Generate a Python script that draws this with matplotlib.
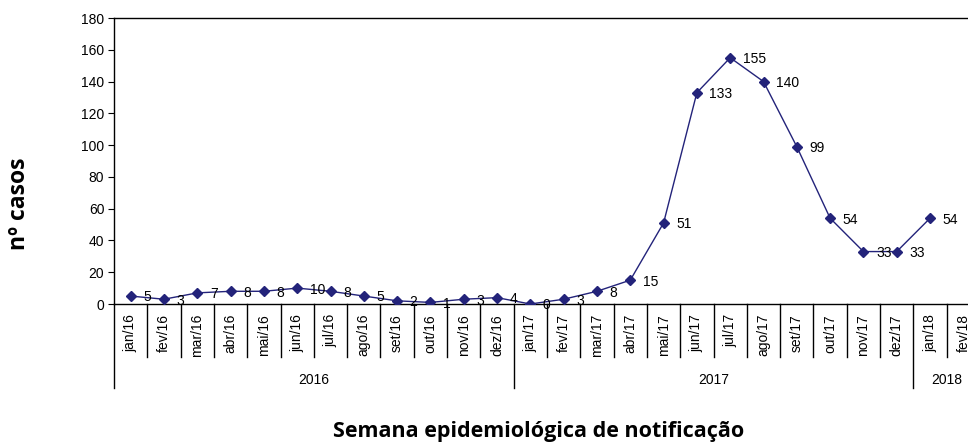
import matplotlib
matplotlib.use("Agg")
import matplotlib.pyplot as plt
from matplotlib.lines import Line2D

months = ["jan/16", "fev/16", "mar/16", "abr/16", "mai/16", "jun/16", "jul/16", "ago/16",
          "set/16", "out/16", "nov/16", "dez/16",
          "jan/17", "fev/17", "mar/17", "abr/17", "mai/17", "jun/17", "jul/17", "ago/17",
          "set/17", "out/17", "nov/17", "dez/17",
          "jan/18", "fev/18"]
cases = [5, 3, 7, 8, 8, 10, 8, 5, 2, 1, 3, 4,
         0, 3, 8, 15, 51, 133, 155, 140, 99, 54, 33, 33,
         54]
years = ["2016", "2017", "2018"]
year_counts = [12, 12, 2]

W, H = 968, 443
fig = plt.figure(figsize=(W / 100, H / 100), dpi=100)
ax_left, ax_right, ax_top, ax_bottom = 114, 980, 18, 304
ax = fig.add_axes([ax_left / W, (H - ax_bottom) / H,
                   (ax_right - ax_left) / W, (ax_bottom - ax_top) / H])

line_color = "#23237a"
xs = list(range(len(cases)))
ax.plot(xs, cases, color=line_color, lw=1.0, marker="D", ms=5.5,
        mfc=line_color, mec=line_color, zorder=3)
for x, v in zip(xs, cases):
    ax.annotate(str(v), (x, v), xytext=(9, -1), textcoords="offset points",
                ha="left", va="center", fontsize=10, family="Liberation Sans",
                color="black", zorder=4)

ax.set_xlim(-0.5, len(months) - 0.5)
ax.set_ylim(0, 180)
ax.set_yticks(range(0, 181, 20))
ax.tick_params(axis="y", labelsize=10, length=4, width=0.8, pad=3)
for lab in ax.get_yticklabels():
    lab.set_family("Liberation Sans")
ax.set_xticks([])
for s in ["left", "top", "bottom", "right"]:
    ax.spines[s].set_linewidth(1.0)
    ax.spines[s].set_color("black")

plot_h = ax_bottom - ax_top
def fy(px_below):
    return -px_below / plot_h

trans = ax.get_xaxis_transform()
# category labels and separators
for i, m in enumerate(months):
    ax.text(i, fy(10), m, rotation=90, ha="center", va="top", fontsize=10,
            family="Liberation Sans", transform=trans, clip_on=False)
boundaries = []
acc = 0
for c in year_counts[:-1]:
    acc += c
    boundaries.append(acc - 0.5)
for i in range(len(months) + 1):
    xb = i - 0.5
    bottom = fy(84) if (xb in boundaries or i == 0) else fy(53)
    ax.add_line(Line2D([xb, xb], [0, bottom], transform=trans, color="black",
                       lw=1.0, clip_on=False))
# year labels
start = 0
for y, c in zip(years, year_counts):
    center = start + (c - 1) / 2
    ax.text(center, fy(76), y, ha="center", va="center", fontsize=10,
            family="Liberation Sans", transform=trans, clip_on=False)
    start += c

fig.text(539 / W, 1 - 432 / H, "Semana epidemiológica de notificação",
         ha="center", va="center", fontsize=15.5, fontweight="bold",
         family="Open Sans")
fig.text(19 / W, 1 - 204 / H, "nº casos", ha="center", va="center",
         rotation=90, fontsize=16.5, fontweight="bold", family="Open Sans")

fig.savefig("out.png", dpi=100)
